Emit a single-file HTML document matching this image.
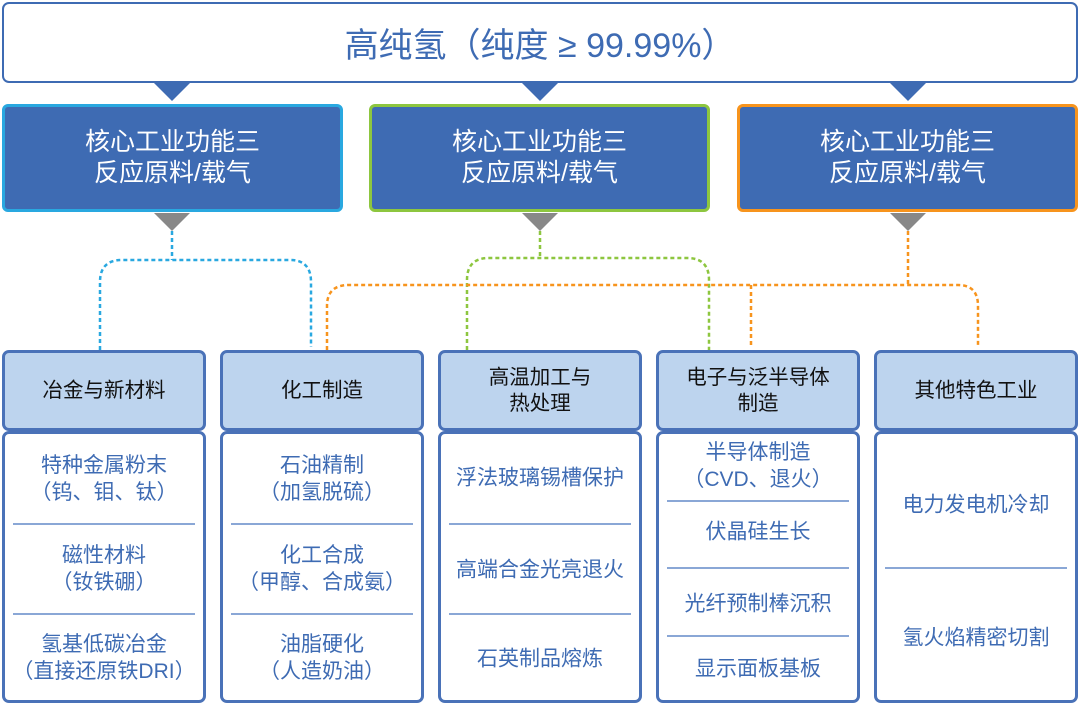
<!DOCTYPE html>
<html><head><meta charset="utf-8"><style>
*{margin:0;padding:0;box-sizing:border-box}
body{width:1080px;height:704px;background:#fff;position:relative;overflow:hidden;font-family:"Liberation Sans","Noto Sans CJK SC",sans-serif}
.a{position:absolute}
.top{left:2px;top:2px;width:1076px;height:81px;border:2px solid #3e6bb3;border-radius:7px;color:#3e6bb3;font-size:34px;display:flex;align-items:center;justify-content:center}
.l2{top:104px;width:341px;height:108px;background:#3e6bb3;border:3px solid;border-radius:6px;color:#fff;font-size:25px;line-height:31px;display:flex;align-items:center;justify-content:center;text-align:center}
.hd{top:350px;width:204px;height:81px;background:#bdd4ee;border:3px solid #4a72b8;border-radius:7px;font-size:20.5px;line-height:26px;color:#111;display:flex;align-items:center;justify-content:center;text-align:center}
.bd{top:431px;width:204px;height:272px;border:3px solid #4a72b8;border-radius:7px}
.t{position:absolute;left:0;width:100%;text-align:center;color:#3e6bb3;font-size:21px;line-height:27px;transform:translateY(-50%);white-space:nowrap}
.ln{position:absolute;left:8px;right:8px;height:1.5px;background:#8aa7d6}
</style></head><body>
<div class="a top">高纯氢（纯度 ≥ 99.99%）</div>
<svg class="a" style="left:0;top:0" width="1080" height="704">
<polygon points="154,83 190,83 172,101" fill="#3e6bb3"/>
<polygon points="522,83 558,83 540,101" fill="#3e6bb3"/>
<polygon points="890,83 926,83 908,101" fill="#3e6bb3"/>
<polygon points="154,213 190,213 172,231" fill="#888"/>
<polygon points="522,213 558,213 540,231" fill="#888"/>
<polygon points="890,213 926,213 908,231" fill="#888"/>
<g fill="none" stroke-width="2.5" stroke-dasharray="4,3">
<path d="M172,231 V260 M100,350 V282 Q100,260 122,260 H290 Q311,260 311,282 V347" stroke="#29a8e0"/>
<path d="M540,231 V258 M467,350 V280 Q467,258 489,258 H687 Q709,258 709,280 V350" stroke="#8dc63f"/>
<path d="M908,231 V285 M327,350 V306 Q327,285 349,285 H958 Q978,285 978,306 V346 M751,285 V348" stroke="#f7941d"/>
</g>
</svg>
<div class="a l2" style="left:2px;border-color:#29a8e0">核心工业功能三<br>反应原料/载气</div>
<div class="a l2" style="left:369px;border-color:#8dc63f">核心工业功能三<br>反应原料/载气</div>
<div class="a l2" style="left:737px;border-color:#f7941d">核心工业功能三<br>反应原料/载气</div>

<div class="a hd" style="left:2px">冶金与新材料</div>
<div class="a hd" style="left:220px">化工制造</div>
<div class="a hd" style="left:438px">高温加工与<br>热处理</div>
<div class="a hd" style="left:656px">电子与泛半导体<br>制造</div>
<div class="a hd" style="left:874px">其他特色工业</div>

<div class="a bd" style="left:2px">
<div class="t" style="top:45px">特种金属粉末<br>（钨、钼、钛）</div>
<div class="ln" style="top:89px"></div>
<div class="t" style="top:135px">磁性材料<br>（钕铁硼）</div>
<div class="ln" style="top:179px"></div>
<div class="t" style="top:224px">氢基低碳冶金<br>（直接还原铁DRI）</div>
</div>
<div class="a bd" style="left:220px">
<div class="t" style="top:45px">石油精制<br>（加氢脱硫）</div>
<div class="ln" style="top:89px"></div>
<div class="t" style="top:135px">化工合成<br>（甲醇、合成氨）</div>
<div class="ln" style="top:179px"></div>
<div class="t" style="top:224px">油脂硬化<br>（人造奶油）</div>
</div>
<div class="a bd" style="left:438px">
<div class="t" style="top:44px">浮法玻璃锡槽保护</div>
<div class="ln" style="top:89px"></div>
<div class="t" style="top:136px">高端合金光亮退火</div>
<div class="ln" style="top:179px"></div>
<div class="t" style="top:225px">石英制品熔炼</div>
</div>
<div class="a bd" style="left:656px">
<div class="t" style="top:32px">半导体制造<br>（CVD、退火）</div>
<div class="ln" style="top:66px"></div>
<div class="t" style="top:98px">伏晶硅生长</div>
<div class="ln" style="top:133px"></div>
<div class="t" style="top:170px">光纤预制棒沉积</div>
<div class="ln" style="top:201px"></div>
<div class="t" style="top:235px">显示面板基板</div>
</div>
<div class="a bd" style="left:874px">
<div class="t" style="top:71px">电力发电机冷却</div>
<div class="ln" style="top:133px"></div>
<div class="t" style="top:204px">氢火焰精密切割</div>
</div>
</body></html>
